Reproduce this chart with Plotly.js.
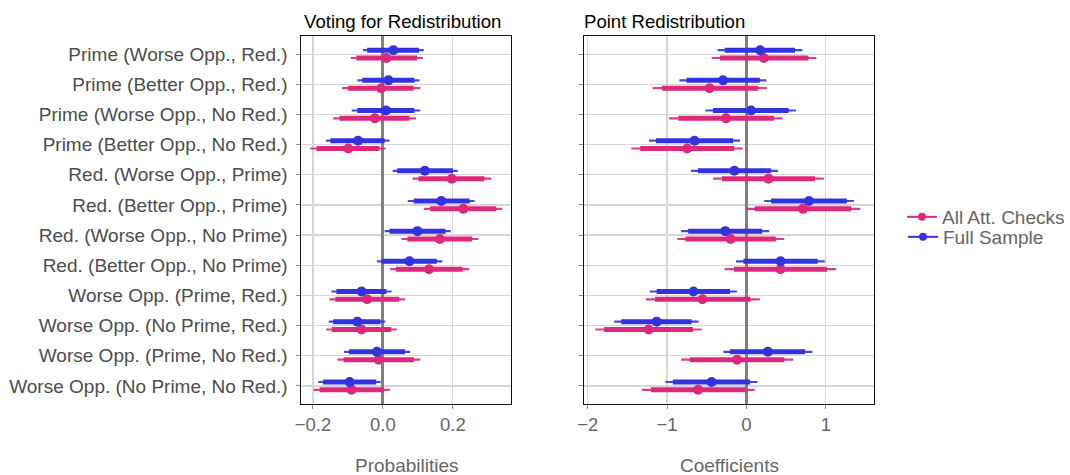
<!DOCTYPE html>
<html><head><meta charset="utf-8">
<script src="https://cdn.plot.ly/plotly-3.0.1.min.js"></script>
<style>body{margin:0;background:#fff}#chart{width:1070px;height:475px}</style>
</head><body><div id="chart"></div>
<script>
const categories = [
  "Prime (Worse Opp., Red.)","Prime (Better Opp., Red.)","Prime (Worse Opp., No Red.)","Prime (Better Opp., No Red.)",
  "Red. (Worse Opp., Prime)","Red. (Better Opp., Prime)","Red. (Worse Opp., No Prime)","Red. (Better Opp., No Prime)",
  "Worse Opp. (Prime, Red.)","Worse Opp. (No Prime, Red.)","Worse Opp. (Prime, No Red.)","Worse Opp. (No Prime, No Red.)"
];
// Voting for Redistribution (probabilities)
const voteFullEst  = [0.030,0.016,0.009,-0.071,0.120,0.167,0.099,0.076,-0.061,-0.073,-0.017,-0.095];
const voteFullLo90 = [-0.045,-0.059,-0.073,-0.150,0.041,0.088,0.019,-0.003,-0.133,-0.142,-0.097,-0.171];
const voteFullHi90 = [0.103,0.090,0.090,0.005,0.200,0.248,0.179,0.154,0.010,-0.007,0.063,-0.019];
const voteFullLo95 = [-0.057,-0.073,-0.089,-0.163,0.028,0.071,0.005,-0.017,-0.147,-0.155,-0.111,-0.185];
const voteFullHi95 = [0.117,0.105,0.107,0.019,0.214,0.262,0.194,0.170,0.025,0.007,0.078,-0.006];
const voteAttEst  = [0.010,-0.005,-0.023,-0.099,0.197,0.230,0.163,0.132,-0.045,-0.061,-0.012,-0.090];
const voteAttLo90 = [-0.076,-0.100,-0.124,-0.190,0.102,0.135,0.070,0.037,-0.136,-0.146,-0.112,-0.181];
const voteAttHi90 = [0.098,0.088,0.076,-0.010,0.290,0.324,0.255,0.228,0.047,0.024,0.089,0.003];
const voteAttLo95 = [-0.092,-0.117,-0.142,-0.208,0.085,0.117,0.053,0.020,-0.153,-0.162,-0.130,-0.198];
const voteAttHi95 = [0.115,0.107,0.095,0.008,0.310,0.341,0.273,0.247,0.064,0.040,0.107,0.020];
// Point Redistribution (coefficients)
const pointFullEst  = [0.173,-0.295,0.059,-0.654,-0.152,0.789,-0.266,0.430,-0.667,-1.131,0.270,-0.439];
const pointFullLo90 = [-0.274,-0.755,-0.422,-1.139,-0.612,0.312,-0.734,-0.038,-1.131,-1.578,-0.207,-0.928];
const pointFullHi90 = [0.612,0.169,0.532,-0.169,0.308,1.266,0.198,0.899,-0.207,-0.692,0.738,0.046];
const pointFullLo95 = [-0.363,-0.844,-0.515,-1.228,-0.700,0.224,-0.823,-0.131,-1.219,-1.667,-0.291,-1.021];
const pointFullHi95 = [0.705,0.253,0.624,-0.080,0.397,1.354,0.287,0.987,-0.118,-0.603,0.831,0.139];
const pointAttEst  = [0.219,-0.464,-0.257,-0.747,0.278,0.713,-0.198,0.430,-0.553,-1.232,-0.118,-0.608];
const pointAttLo90 = [-0.333,-1.063,-0.857,-1.338,-0.308,0.105,-0.768,-0.156,-1.152,-1.793,-0.713,-1.203];
const pointAttHi90 = [0.781,0.148,0.346,-0.156,0.865,1.321,0.371,1.017,0.051,-0.675,0.477,-0.008];
const pointAttLo95 = [-0.439,-1.181,-0.975,-1.451,-0.422,-0.004,-0.873,-0.274,-1.266,-1.903,-0.823,-1.316];
const pointAttHi95 = [0.882,0.257,0.456,-0.046,0.975,1.435,0.477,1.131,0.169,-0.565,0.591,0.105];

const seriesNames = ["All Att. Checks","Full Sample"];
const panelTitles = ["Voting for Redistribution","Point Redistribution"];
const axisTitles = ["Probabilities","Coefficients"];
const PINK = "rgb(221,41,125)", BLUE = "rgb(50,50,222)";
const FONT = "Liberation Sans, Arial, sans-serif";

const n = categories.length;
const basePos = categories.map((c,i)=>n - i);

function seg(lo, hi, pos){
  const x=[], y=[];
  lo.forEach((v,i)=>{ x.push(v, hi[i], null); y.push(pos[i], pos[i], null); });
  return {x, y};
}
const traces = [];
function addSeries(est, lo90, hi90, lo95, hi95, color, name, xa, ya, offset, legendId){
  const pos = basePos.map(p=>p+offset);
  const s95 = seg(lo95, hi95, pos), s90 = seg(lo90, hi90, pos);
  traces.push({type:"scatter", mode:"lines", x:s95.x, y:s95.y, xaxis:xa, yaxis:ya,
    line:{color:color, width:2.2}, opacity:0.9, showlegend:false, hoverinfo:"skip", connectgaps:false});
  traces.push({type:"scatter", mode:"lines", x:s90.x, y:s90.y, xaxis:xa, yaxis:ya,
    line:{color:color, width:5}, showlegend:false, hoverinfo:"skip", connectgaps:false});
  traces.push({type:"scatter", mode:"markers", x:est, y:pos, xaxis:xa, yaxis:ya,
    marker:{color:color, size:10}, showlegend:false});
  if (legendId) {
    traces.push({type:"scatter", mode:"lines+markers", x:[null], y:[null], xaxis:xa, yaxis:ya,
      name:name, legend:legendId, line:{color:color, width:2}, marker:{color:color, size:8}, showlegend:true});
  }
}
const OFF = 0.13;
addSeries(voteAttEst, voteAttLo90, voteAttHi90, voteAttLo95, voteAttHi95, PINK, seriesNames[0], "x", "y", -OFF, "legend");
addSeries(voteFullEst, voteFullLo90, voteFullHi90, voteFullLo95, voteFullHi95, BLUE, seriesNames[1], "x", "y", OFF, "legend2");
addSeries(pointAttEst, pointAttLo90, pointAttHi90, pointAttLo95, pointAttHi95, PINK, seriesNames[0], "x2", "y2", -OFF, null);
addSeries(pointFullEst, pointFullLo90, pointFullHi90, pointFullLo95, pointFullHi95, BLUE, seriesNames[1], "x2", "y2", OFF, null);

const yDom = [1-404/475, 1-36/475];
const gridC = "#d6d6d6", tickC = "#4d4d4d";
const xCommon = {showgrid:true, gridcolor:gridC, gridwidth:1.2, zeroline:true, zerolinecolor:"#808080", zerolinewidth:3,
  showline:true, mirror:true, linecolor:"#111", linewidth:1, ticks:"outside", ticklen:4, tickcolor:"#888",
  tickfont:{family:FONT, size:18.5, color:"#666"}, fixedrange:true};
const yCommon = {showgrid:true, gridcolor:gridC, gridwidth:1.2, zeroline:false, range:[0.4, n+0.6],
  tickvals:basePos, ticktext:categories, showline:true, mirror:true, linecolor:"#111", linewidth:1,
  ticks:"outside", ticklen:4, tickcolor:"#888", ticklabelstandoff:5,
  tickfont:{family:FONT, size:19, color:tickC}, domain:yDom, fixedrange:true};
const legCommon = {xanchor:"left", yanchor:"middle", font:{family:FONT, size:19, color:"#666"},
  bgcolor:"rgba(0,0,0,0)", itemwidth:30, borderwidth:0};

const layout = {
  width:1070, height:475, margin:{l:0,r:0,t:0,b:0}, paper_bgcolor:"#fff", plot_bgcolor:"#fff",
  font:{family:FONT},
  xaxis: Object.assign({}, xCommon, {domain:[301.7/1070, 511.7/1070], range:[-0.233, 0.367],
    tickvals:[-0.2,0,0.2], ticktext:["\u22120.2","0.0","0.2"], anchor:"y"}),
  yaxis: Object.assign({}, yCommon, {anchor:"x", showticklabels:true}),
  xaxis2: Object.assign({}, xCommon, {domain:[584.3/1070, 875/1070], range:[-2.05, 1.61],
    tickvals:[-2,-1,0,1], ticktext:["\u22122","\u22121","0","1"], anchor:"y2"}),
  yaxis2: Object.assign({}, yCommon, {anchor:"x2", showticklabels:false}),
  legend: Object.assign({}, legCommon, {x:903/1070, y:1-217/475}),
  legend2: Object.assign({}, legCommon, {x:903/1070, y:1-237/475}),
  annotations:[
    {text:panelTitles[0], xref:"paper", yref:"paper", x:402.5/1070, y:1-22/475, xanchor:"center", yanchor:"middle",
      showarrow:false, font:{family:FONT, size:18.6, color:"#000"}},
    {text:panelTitles[1], xref:"paper", yref:"paper", x:665/1070, y:1-22/475, xanchor:"center", yanchor:"middle",
      showarrow:false, font:{family:FONT, size:18.6, color:"#000"}},
    {text:axisTitles[0], xref:"paper", yref:"paper", x:407/1070, y:1-465/475, xanchor:"center", yanchor:"middle",
      showarrow:false, font:{family:FONT, size:19, color:"#666"}},
    {text:axisTitles[1], xref:"paper", yref:"paper", x:730/1070, y:1-465/475, xanchor:"center", yanchor:"middle",
      showarrow:false, font:{family:FONT, size:19, color:"#666"}}
  ]
};
Plotly.newPlot("chart", traces, layout, {staticPlot:true, displayModeBar:false});
</script></body></html>
